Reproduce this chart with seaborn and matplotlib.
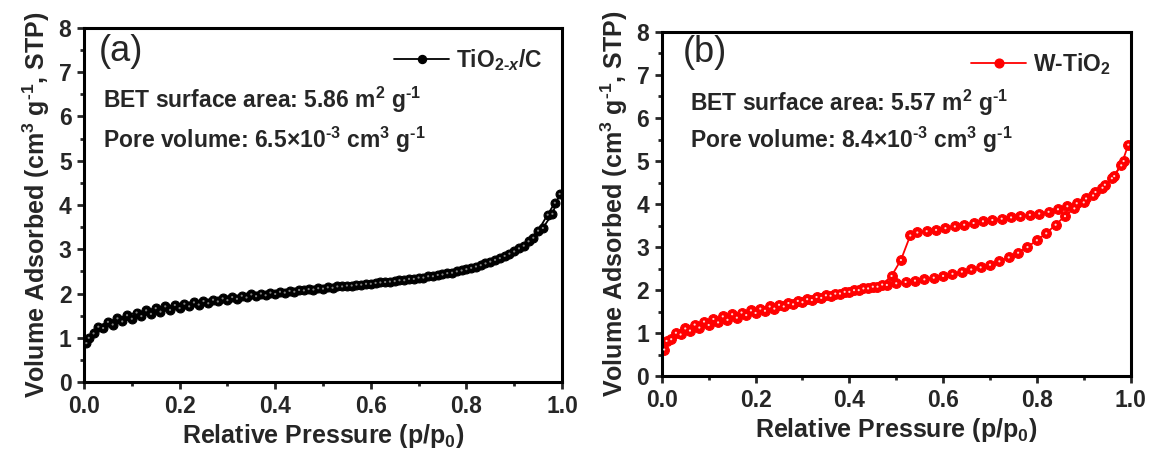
import numpy as np
import pandas as pd
import matplotlib
matplotlib.use("Agg")
import matplotlib.pyplot as plt
from matplotlib.ticker import MultipleLocator, FormatStrFormatter
from matplotlib.lines import Line2D
import seaborn as sns

# ---------------- data ----------------
# Panel (a) TiO2-x/C
xa_ads = [0.005, 0.02, 0.04, 0.06, 0.08, 0.10, 0.12, 0.14, 0.16, 0.18, 0.20, 0.22, 0.24, 0.26, 0.28,
          0.30, 0.32, 0.34, 0.36, 0.38, 0.40, 0.42, 0.44, 0.46, 0.48, 0.50, 0.52, 0.54, 0.56, 0.58,
          0.60, 0.62, 0.64, 0.66, 0.68, 0.70, 0.72, 0.74, 0.76, 0.78, 0.80, 0.82, 0.84, 0.86, 0.88,
          0.90, 0.92, 0.94, 0.96, 0.98, 0.995]
ya_ads = [0.88, 1.10, 1.22, 1.30, 1.37, 1.43, 1.49, 1.54, 1.59, 1.63, 1.67, 1.71, 1.75, 1.78, 1.82,
          1.85, 1.88, 1.91, 1.94, 1.96, 1.99, 2.02, 2.04, 2.07, 2.09, 2.11, 2.13, 2.16, 2.18, 2.20,
          2.22, 2.25, 2.27, 2.30, 2.33, 2.36, 2.39, 2.42, 2.46, 2.50, 2.55, 2.61, 2.68, 2.76, 2.85,
          2.95, 3.08, 3.26, 3.48, 3.80, 4.25]
xa_des = [0.985, 0.97, 0.95, 0.93, 0.91, 0.89, 0.87, 0.85, 0.83, 0.81, 0.79, 0.77, 0.75, 0.73, 0.71,
          0.69, 0.67, 0.65, 0.63, 0.61, 0.59, 0.57, 0.55, 0.53, 0.51, 0.49, 0.47, 0.45, 0.43, 0.41,
          0.39, 0.37, 0.35, 0.33, 0.31, 0.29, 0.27, 0.25, 0.23, 0.21, 0.19, 0.17, 0.15, 0.13, 0.11,
          0.09, 0.07, 0.05, 0.03, 0.01]
ya_des = [4.05, 3.78, 3.42, 3.18, 3.02, 2.90, 2.80, 2.72, 2.64, 2.58, 2.52, 2.47, 2.43, 2.39, 2.36,
          2.33, 2.30, 2.28, 2.26, 2.24, 2.22, 2.20, 2.18, 2.16, 2.14, 2.12, 2.10, 2.08, 2.06, 2.04,
          2.02, 2.00, 1.98, 1.95, 1.92, 1.89, 1.86, 1.83, 1.80, 1.77, 1.74, 1.71, 1.67, 1.62, 1.57,
          1.51, 1.44, 1.36, 1.25, 1.00]

# Panel (b) W-TiO2
xb_ads = [0.005, 0.02, 0.04, 0.06, 0.08, 0.10, 0.12, 0.14, 0.16, 0.18, 0.20, 0.22, 0.24, 0.26, 0.28,
          0.30, 0.32, 0.34, 0.36, 0.38, 0.40, 0.42, 0.44, 0.46, 0.48, 0.50, 0.52, 0.54, 0.56, 0.58,
          0.60, 0.62, 0.64, 0.66, 0.68, 0.70, 0.72, 0.74, 0.76, 0.78, 0.80, 0.82, 0.84, 0.86, 0.88,
          0.90, 0.92, 0.94, 0.96, 0.98, 0.995]
yb_ads = [0.62, 0.86, 0.97, 1.06, 1.13, 1.19, 1.25, 1.31, 1.36, 1.42, 1.47, 1.52, 1.57, 1.62, 1.67,
          1.72, 1.77, 1.82, 1.87, 1.92, 1.96, 2.00, 2.04, 2.08, 2.12, 2.16, 2.19, 2.22, 2.25, 2.29,
          2.33, 2.38, 2.43, 2.48, 2.53, 2.59, 2.67, 2.76, 2.87, 3.00, 3.16, 3.32, 3.52, 3.72, 3.90,
          4.04, 4.20, 4.38, 4.60, 4.90, 5.38]
xb_des = [0.985, 0.965, 0.945, 0.925, 0.905, 0.885, 0.865, 0.845, 0.825, 0.805, 0.785, 0.765, 0.745,
          0.725, 0.705, 0.685, 0.665, 0.645, 0.625, 0.605, 0.585, 0.565, 0.545, 0.53, 0.51, 0.49,
          0.47, 0.45, 0.43, 0.41, 0.39, 0.37, 0.35, 0.33, 0.31, 0.29, 0.27, 0.25, 0.23, 0.21, 0.19,
          0.17, 0.15, 0.13, 0.11, 0.09, 0.07, 0.05, 0.03, 0.01]
yb_des = [5.00, 4.65, 4.45, 4.28, 4.13, 4.02, 3.95, 3.88, 3.82, 3.78, 3.75, 3.72, 3.69,
          3.66, 3.63, 3.60, 3.56, 3.52, 3.48, 3.44, 3.40, 3.37, 3.34, 3.27, 2.70, 2.33,
          2.13, 2.08, 2.04, 2.00, 1.96, 1.92, 1.88, 1.84, 1.79, 1.75, 1.70, 1.66, 1.62, 1.57, 1.53,
          1.48, 1.44, 1.39, 1.33, 1.27, 1.20, 1.11, 1.01, 0.82]

labels = [r"TiO$_{2\text{-}\mathit{x}}$/C", r"W-TiO$_2$"]
panel_tags = ["(a)", "(b)"]
bet_texts = [r"BET surface area: 5.86 m$^2$ g$^{\text{-}1}$",
             r"BET surface area: 5.57 m$^2$ g$^{\text{-}1}$"]
pore_texts = [r"Pore volume: 6.5×10$^{\text{-}3}$ cm$^3$ g$^{\text{-}1}$",
              r"Pore volume: 8.4×10$^{\text{-}3}$ cm$^3$ g$^{\text{-}1}$"]
xlabel_text = r"Relative Pressure (p/p$_0$)"
ylabel_text = r"Volume Adsorbed (cm$^3$ g$^{\text{-}1}$, STP)"
colors = ["black", "#ff0000"]
highlights = ["#9a9a9a", "white"]

# ---------------- style ----------------
sns.set_theme(style="ticks")
plt.rcParams["font.family"] = ["Liberation Sans", "DejaVu Sans"]
plt.rcParams["font.weight"] = "bold"
plt.rcParams["mathtext.fontset"] = "custom"
plt.rcParams["mathtext.rm"] = "Liberation Sans:bold"
plt.rcParams["mathtext.bf"] = "Liberation Sans:bold"
plt.rcParams["mathtext.it"] = "Liberation Sans:bold:italic"
plt.rcParams["mathtext.default"] = "rm"

fig = plt.figure(figsize=(11.49, 4.5), dpi=100)
ax_a = fig.add_axes([0.0731, 0.151, 0.416, 0.787])
ax_b = fig.add_axes([0.576, 0.164, 0.408, 0.765])

datasets = [
    (xa_ads, ya_ads, xa_des, ya_des),
    (xb_ads, yb_ads, xb_des, yb_des),
]
text_pos = [
    dict(tag=(0.03, 0.932), bet=(0.04, 0.797), pore=(0.04, 0.684)),
    dict(tag=(0.045, 0.94), bet=(0.06, 0.794), pore=(0.06, 0.686)),
]

for i, ax in enumerate([ax_a, ax_b]):
    xa, ya, xd, yd = datasets[i]
    c = colors[i]
    ms = 6.4 if i == 0 else 7.0
    df = pd.DataFrame({"p": list(xa) + list(xd),
                       "v": list(ya) + list(yd),
                       "branch": ["ads"] * len(xa) + ["des"] * len(xd)})
    for j, (br, sub) in enumerate(df.groupby("branch", sort=False)):
        sns.lineplot(data=sub, x="p", y="v", sort=False, estimator=None, ax=ax,
                     color=c, lw=1.3, marker="o", markersize=ms,
                     markerfacecolor=c, markeredgecolor=c, markeredgewidth=0.8,
                     legend=False)
        # highlight to mimic spherical symbols
        sns.scatterplot(data=sub, x="p", y="v", ax=ax, s=2.4, color=highlights[i],
                        edgecolor="none", alpha=0.85, legend=False, zorder=5)

    ax.set_xlim(0, 1.0)
    ax.set_ylim(0, 8)
    ax.xaxis.set_major_locator(MultipleLocator(0.2))
    ax.xaxis.set_minor_locator(MultipleLocator(0.1))
    ax.yaxis.set_major_locator(MultipleLocator(1))
    ax.yaxis.set_minor_locator(MultipleLocator(0.5))
    ax.xaxis.set_major_formatter(FormatStrFormatter("%.1f"))
    ax.tick_params(which="major", direction="out", length=5, width=2.0, labelsize=16.5, pad=4)
    ax.tick_params(which="minor", direction="out", length=3, width=2.0)
    for lab in ax.get_xticklabels() + ax.get_yticklabels():
        lab.set_fontweight("bold")
    for sp in ax.spines.values():
        sp.set_linewidth(2.2)
        sp.set_color("black")
        sp.set_visible(True)
    ax.set_xlabel(xlabel_text, fontsize=18, fontweight="bold", labelpad=3)
    ax.set_ylabel(ylabel_text, fontsize=18, fontweight="bold", labelpad=5)

    tp = text_pos[i]
    ax.text(*tp["tag"], panel_tags[i], transform=ax.transAxes, fontsize=26,
            fontweight="normal", ha="left", va="center")
    ax.text(*tp["bet"], bet_texts[i], transform=ax.transAxes, fontsize=16.5,
            fontweight="bold", ha="left", va="center")
    ax.text(*tp["pore"], pore_texts[i], transform=ax.transAxes, fontsize=16.5,
            fontweight="bold", ha="left", va="center")

    h = Line2D([], [], color=c, lw=1.3, marker="o", markersize=ms * 0.9,
               markerfacecolor=c, markeredgecolor=c)
    ax.legend([h], [labels[i]], loc="upper right", frameon=False, numpoints=1,
              handlelength=2.4, handletextpad=0.3, borderaxespad=0.45,
              prop={"size": 16.5, "weight": "bold"})

fig.savefig("out.png", dpi=100)
